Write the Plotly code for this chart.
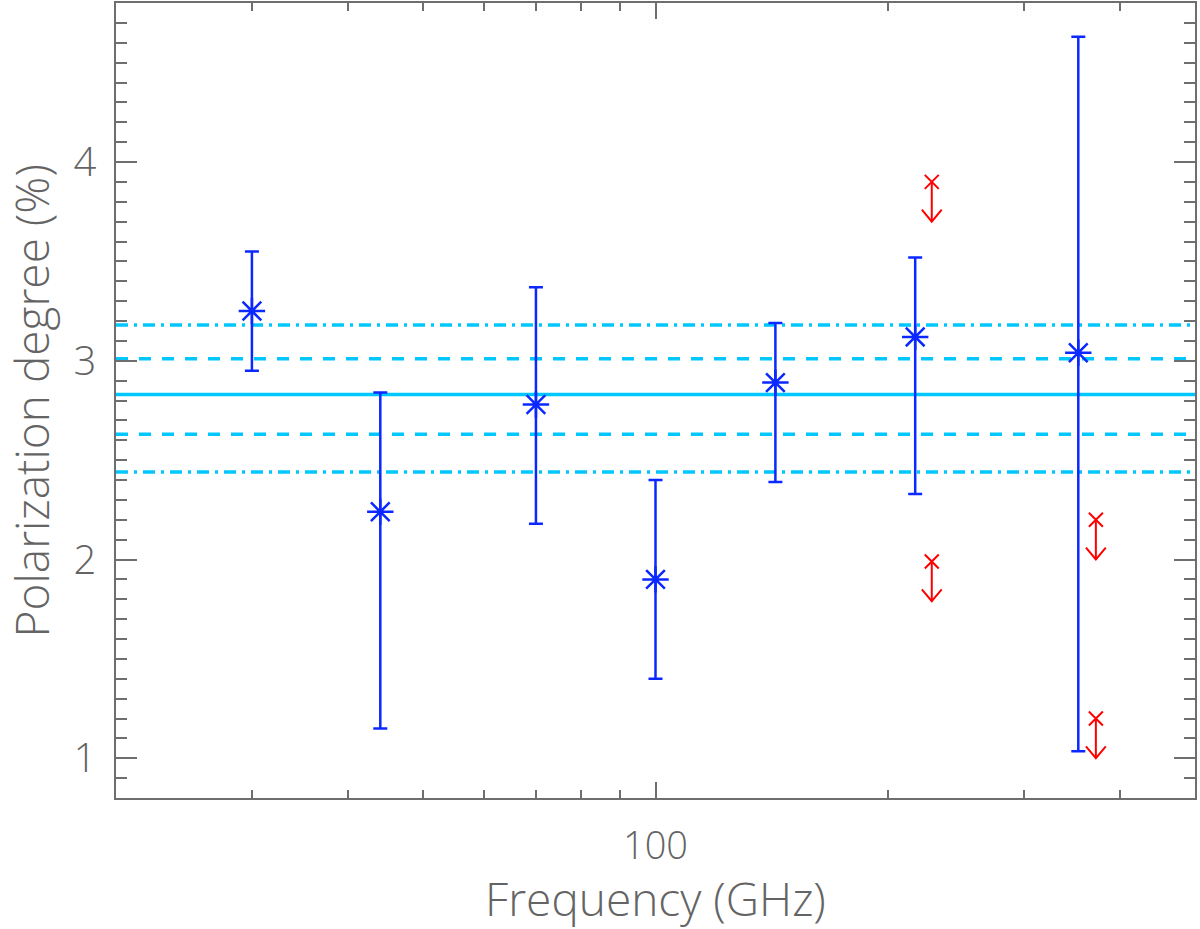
import numpy as np
import plotly.graph_objects as go

# Planck frequencies (GHz) and polarization degree (%)
freq = [30, 44, 70, 100, 143, 217, 353]
pol = [3.25, 2.24, 2.78, 1.90, 2.89, 3.12, 3.04]
err_hi = [3.55, 2.84, 3.37, 2.40, 3.19, 3.52, 4.63]
err_lo = [2.95, 1.15, 2.18, 1.40, 2.39, 2.33, 1.035]

# upper limits (red)
lim_freq = [228, 228, 372, 372]
lim_val = [3.90, 1.99, 2.20, 1.20]
lim_len = 0.2

# weighted mean and 1/2 sigma bands
mean_val = 2.83
sig1 = [2.63, 3.01]
sig2 = [2.44, 3.18]

x_range = [20, 500]
y_range = [0.8, 4.8]

blue = "rgb(10,40,255)"
cyan = "rgb(0,200,255)"
axis_col = "rgb(110,110,110)"
txt_col = "rgb(100,100,100)"
font = dict(family="Open Sans", size=40, color=txt_col, weight=300)
title_font = dict(family="Open Sans", size=46, color=txt_col, weight=300)

fig = go.Figure()

# horizontal lines
def hline(y, dash):
    fig.add_trace(go.Scatter(x=x_range, y=[y, y], mode="lines",
                             line=dict(color=cyan, width=3.5, dash=dash),
                             hoverinfo="skip", showlegend=False))

hline(mean_val, "solid")
for v in sig1:
    hline(v, "12px,11px")
for v in sig2:
    hline(v, "12px,6px,3px,6px")

# data points with asymmetric error bars
pol_a = np.array(pol)
fig.add_trace(go.Scatter(
    x=freq, y=pol, mode="markers",
    marker=dict(symbol="asterisk-open", size=22, color=blue,
                line=dict(color=blue, width=2.5)),
    error_y=dict(type="data", symmetric=False,
                 array=np.array(err_hi) - pol_a,
                 arrayminus=pol_a - np.array(err_lo),
                 color=blue, thickness=2.5, width=7),
    showlegend=False,
))

# upper limit arrows
lx, ly = [], []
for f, v in zip(lim_freq, lim_val):
    tip = v - lim_len
    lx += [f, f, None, f * 1.03, f, f / 1.03, None]
    ly += [v, tip, None, tip + 0.06, tip, tip + 0.06, None]
fig.add_trace(go.Scatter(x=lx, y=ly, mode="lines",
                         line=dict(color="red", width=2),
                         hoverinfo="skip", showlegend=False))
fig.add_trace(go.Scatter(
    x=lim_freq, y=lim_val, mode="markers",
    marker=dict(symbol="x-thin-open", size=14, color="red",
                line=dict(color="red", width=2)),
    showlegend=False,
))

fig.update_layout(
    width=1200, height=929,
    margin=dict(l=116, r=5, t=3, b=131, autoexpand=False),
    plot_bgcolor="white", paper_bgcolor="white",
    font=font,
)

fig.update_xaxes(
    type="log", range=[np.log10(x_range[0]), np.log10(x_range[1])],
    tickvals=[100], ticktext=["100"],
    tickfont=dict(family="Open Sans", size=38, color=txt_col, weight=300),
    ticks="inside", ticklen=16, tickwidth=1.5, tickcolor=axis_col,
    minor=dict(tickvals=[30, 40, 50, 60, 70, 80, 90, 200, 300, 400],
               ticks="inside", ticklen=8, tickwidth=1.5, tickcolor=axis_col),
    showline=True, linecolor=axis_col, linewidth=1.5, mirror="ticks",
    showgrid=False, zeroline=False, automargin=False,
    title=dict(text="Frequency (GHz)", standoff=7, font=title_font),
    ticklabelstandoff=14,
)
fig.update_yaxes(
    range=y_range,
    tickvals=[1, 2, 3, 4],
    ticks="inside", ticklen=21, tickwidth=1.5, tickcolor=axis_col,
    minor=dict(dtick=0.1, ticks="inside", ticklen=11, tickwidth=1.5,
               tickcolor=axis_col, showgrid=False),
    showline=True, linecolor=axis_col, linewidth=1.5, mirror="ticks",
    showgrid=False, zeroline=False, automargin=False,
    ticklabelstandoff=10,
)

# y title as a rotated annotation so it can sit close to the page edge
fig.add_annotation(text="Polarization degree (%)", textangle=-90,
                   xref="paper", yref="paper", x=0, y=0.5,
                   xanchor="center", yanchor="middle", xshift=-86,
                   showarrow=False, font=title_font)

# page has a default body margin; drop it so the figure sits at 0,0
fig.write_html("out.html", config={"displayModeBar": False},
               post_script="document.body.style.margin='0';")
